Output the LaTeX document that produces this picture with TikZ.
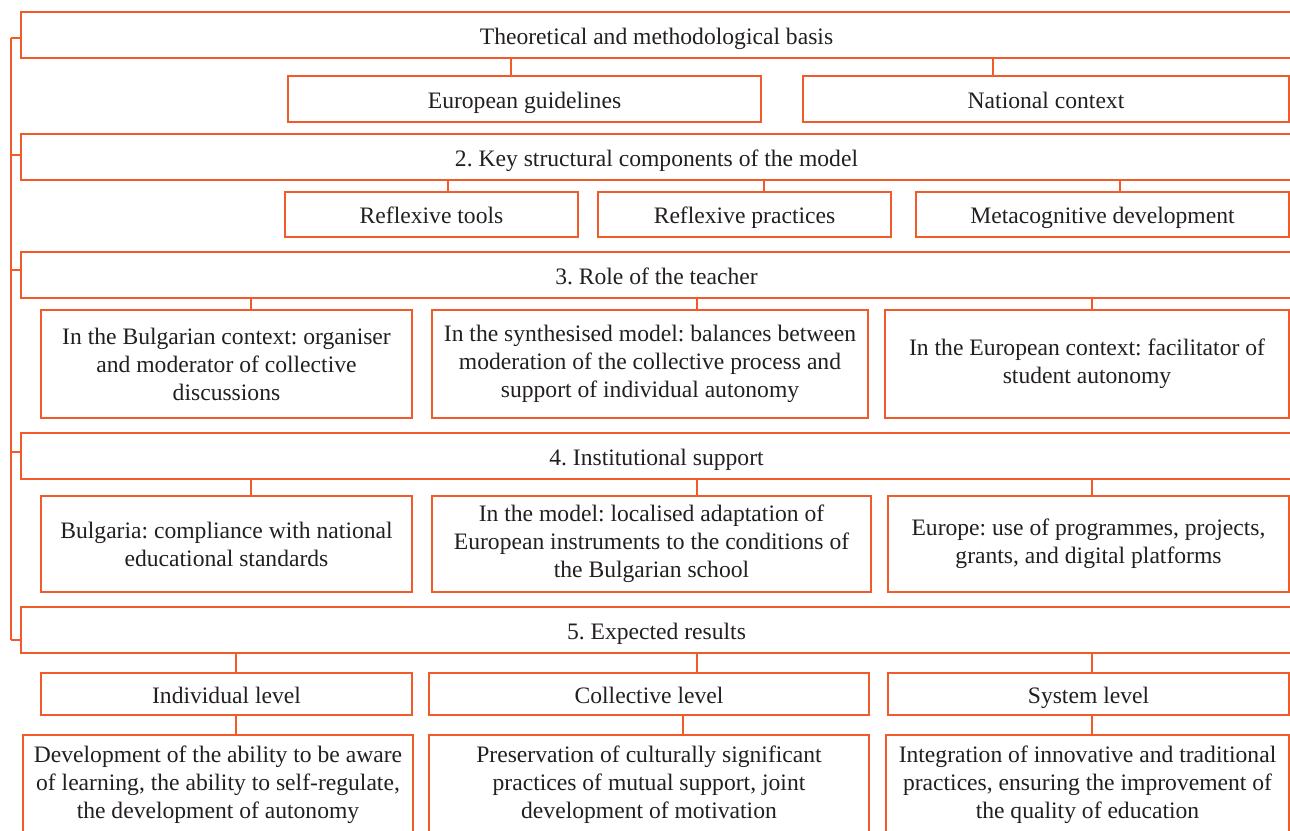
\documentclass[tikz,border=0pt]{standalone}
\usepackage{fontspec}
\setmainfont{Liberation Serif}
\frenchspacing
\usetikzlibrary{positioning}

\definecolor{lineorange}{RGB}{241,90,41}
\definecolor{textgray}{RGB}{35,31,32}

\tikzset{
   frame/.style={draw=lineorange, line width=0.7pt, anchor=north west,
      inner sep=0pt, outer sep=0pt, align=center, text=textgray,
      font=\fontsize{11.8}{14}\selectfont},
   oneline/.style={frame, text height=10.2pt, text depth=1pt},
   head/.style={oneline, minimum width=635.5pt, minimum height=23pt},
   link/.style={draw=lineorange, line width=0.7pt}
}

\begin{document}
\begin{tikzpicture}[x=0.5pt, y=-0.5pt]
   \useasboundingbox (0,0) rectangle (1290,830);
   \clip (0,0) rectangle (1290,830);

   % level 1
   \node[head] (basis) at (21,12) {Theoretical and methodological basis};
   \node[oneline, minimum width=236.5pt, minimum height=23pt] (euro) at (288,76) {European guidelines};
   \node[oneline, minimum width=243pt, minimum height=23pt] (natl) at (803,76) {National context};

   % level 2
   \node[head] (comp) at (21,134) {2. Key structural components of the model};
   \node[oneline, minimum width=146.5pt, minimum height=22.5pt] (tools) at (285,192) {Reflexive tools};
   \node[oneline, minimum width=146.5pt, minimum height=22.5pt] (pract) at (598,192) {Reflexive practices};
   \node[oneline, minimum width=186.5pt, minimum height=22.5pt] (meta) at (916,192) {Metacognitive development};

   % level 3
   \node[head] (role) at (21,252) {3. Role of the teacher};
   \node[frame, minimum width=185.5pt, minimum height=54pt] (rolebg) at (41,310)
      {In the Bulgarian context: organiser\\and moderator of collective\\discussions};
   \node[frame, minimum width=218pt, minimum height=54pt] (rolesm) at (432,310)
      {In the synthesised model: balances between\\moderation of the collective process and\\support of individual autonomy};
   \node[frame, minimum width=202pt, minimum height=54pt] (roleeu) at (885,310)
      {In the European context: facilitator of\\student autonomy};

   % level 4
   \node[head] (inst) at (21,433) {4. Institutional support};
   \node[frame, minimum width=185.5pt, minimum height=48pt] (instbg) at (41,496)
      {Bulgaria: compliance with national\\educational standards};
   \node[frame, minimum width=219.5pt, minimum height=48pt] (instmd) at (432,496)
      {In the model: localised adaptation of\\European instruments to the conditions of\\the Bulgarian school};
   \node[frame, minimum width=200.5pt, minimum height=48pt] (insteu) at (888,496)
      {Europe: use of programmes, projects,\\grants, and digital platforms};

   % level 5
   \node[head] (res) at (21,607) {5. Expected results};
   \node[oneline, minimum width=185.5pt, minimum height=21pt] (indiv) at (41,673) {Individual level};
   \node[oneline, minimum width=220pt, minimum height=21pt] (coll) at (429,673) {Collective level};
   \node[oneline, minimum width=200.5pt, minimum height=21pt] (syst) at (888,673) {System level};
   \node[frame, minimum width=195pt, minimum height=49.5pt] (indivres) at (23,735)
      {Development of the ability to be aware\\of learning, the ability to self-regulate,\\the development of autonomy};
   \node[frame, minimum width=220pt, minimum height=49.5pt] (collres) at (429,735)
      {Preservation of culturally significant\\practices of mutual support, joint\\development of motivation};
   \node[frame, minimum width=201.5pt, minimum height=49.5pt] (systres) at (886,735)
      {Integration of innovative and traditional\\practices, ensuring the improvement of\\the quality of education};

   % connectors
   \draw[link] (basis.south -| 511,0) -- (euro.north -| 511,0);
   \draw[link] (basis.south -| 993,0) -- (natl.north -| 993,0);
   \draw[link] (comp.south -| 448,0) -- (tools.north -| 448,0);
   \draw[link] (comp.south -| 764,0) -- (pract.north -| 764,0);
   \draw[link] (comp.south -| 1120,0) -- (meta.north -| 1120,0);
   \draw[link] (role.south -| 251,0) -- (rolebg.north -| 251,0);
   \draw[link] (role.south -| 697,0) -- (rolesm.north -| 697,0);
   \draw[link] (role.south -| 1092,0) -- (roleeu.north -| 1092,0);
   \draw[link] (inst.south -| 251,0) -- (instbg.north -| 251,0);
   \draw[link] (inst.south -| 697,0) -- (instmd.north -| 697,0);
   \draw[link] (inst.south -| 1092,0) -- (insteu.north -| 1092,0);
   \draw[link] (res.south -| 236,0) -- (indiv.north -| 236,0);
   \draw[link] (res.south -| 697,0) -- (coll.north -| 697,0);
   \draw[link] (res.south -| 1092,0) -- (syst.north -| 1092,0);
   \draw[link] (indiv.south -| 236,0) -- (indivres.north -| 236,0);
   \draw[link] (coll.south -| 683,0) -- (collres.north -| 683,0);
   \draw[link] (syst.south -| 1092,0) -- (systres.north -| 1092,0);

   % bracket on the left
   \coordinate (spinetop) at (11,38);
   \coordinate (spinebot) at (11,640);
   \draw[link] (spinetop) -- (spinebot);
   \draw[link] (spinetop) -- (basis.west |- spinetop);
   \draw[link] (spinetop |- 0,155) -- (comp.west |- 0,155);
   \draw[link] (spinetop |- 0,270) -- (role.west |- 0,270);
   \draw[link] (spinetop |- 0,452) -- (inst.west |- 0,452);
   \draw[link] (spinebot) -- (res.west |- spinebot);
\end{tikzpicture}
\end{document}
